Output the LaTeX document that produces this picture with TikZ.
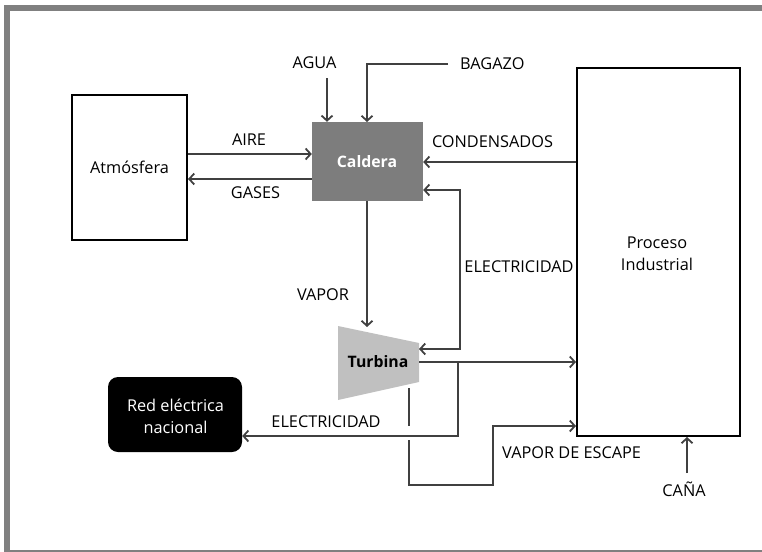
\documentclass[tikz,border=0pt]{standalone}
\usepackage{fontspec}
\setmainfont{Open Sans}
\usetikzlibrary{arrows.meta}
\definecolor{linegray}{HTML}{404040}
\definecolor{framegray}{HTML}{808080}
\definecolor{calgray}{HTML}{7D7D7D}
\definecolor{turbgray}{HTML}{C0C0C0}
\begin{document}
\begin{tikzpicture}[x=1pt,y=-1pt,
  tip/.tip={Straight Barb[length=5pt,width=11pt,line width=1.8pt]},
  flow/.style={draw=linegray, line width=1.8pt, -tip},
  plain/.style={draw=linegray, line width=1.8pt},
  lbl/.style={font=\fontsize{16.3}{19}\selectfont, inner sep=0pt, text=black},
  whitebox/.style={draw=black, line width=2pt, fill=white, inner sep=0pt},
]
\useasboundingbox (0,0) rectangle (762,551);
\draw[framegray, line width=6pt] (7,8) rectangle (770,553);

% blocks
\node[whitebox, minimum width=115pt, minimum height=145pt] (atm) at (129.5,167.5) {};
\node[lbl] (atmtxt) at (129.5,167) {Atmósfera};
\node[fill=calgray, minimum width=111pt, minimum height=79pt, inner sep=0pt] (cal) at (367.5,161.5) {};
\node[lbl, text=white, font=\fontsize{15.8}{18}\selectfont\bfseries] (caltxt) at (367,162) {Caldera};
\node[whitebox, minimum width=163pt, minimum height=368pt] (proc) at (658.5,252) {};
\node[lbl, align=center, font=\fontsize{16.3}{22}\selectfont] (proctxt) at (657,254) {Proceso\\Industrial};
\node[fill=black, rounded corners=10pt, minimum width=134pt, minimum height=75pt, inner sep=0pt] (red) at (175,414.5) {};
\node[lbl, text=white, align=center, font=\fontsize{16.3}{22}\selectfont] (redtxt) at (175.5,416) {Red eléctrica\\nacional};
\fill[turbgray] (338,326) -- (419,343) -- (419,382) -- (338,400) -- cycle;
\node[lbl, font=\fontsize{15.8}{18}\selectfont\bfseries] (turb) at (378,362) {Turbina};

% coordinates
\coordinate (aguaS) at (327,78);
\coordinate (bagS) at (448,64);
\coordinate (turbIn) at (367,327);
\coordinate (turbE1) at (419,349);
\coordinate (turbE2) at (419,362);
\coordinate (elecC) at (460,190);
\coordinate (elecD) at (460,349);
\coordinate (elec2A) at (458,362);
\coordinate (elec2B) at (458,436);
\coordinate (escA) at (409,388);
\coordinate (escB) at (409,426);
\coordinate (escC) at (409,440);
\coordinate (escD) at (409,485);
\coordinate (escE) at (493,485);
\coordinate (escF) at (493,426);
\coordinate (canaS) at (687,473);

% connectors
\draw[flow] (atm.east |- 0,154) -- (cal.west |- 0,154);
\draw[flow] (cal.west |- 0,179) -- (atm.east |- 0,179);
\draw[flow] (aguaS) -- (aguaS |- cal.north);
\draw[flow] (bagS) -- (367,64) -- (367,122);
\draw[flow] (proc.west |- 0,162) -- (cal.east |- 0,162);
\draw[plain, tip-tip] (cal.east |- elecC) -- (elecC) -- (elecD) -- (turbE1);
\draw[flow] (367,201) -- (turbIn);
\draw[flow] (turbE2) -- (proc.west |- turbE2);
\draw[flow] (elec2A) -- (elec2B) -- (red.east |- elec2B);
\draw[plain] (escA) -- (escB);
\draw[flow] (escC) -- (escD) -- (escE) -- (escF) -- (proc.west |- escF);
\draw[flow] (canaS) -- (canaS |- proc.south);

% labels
\node[lbl] (agua) at (314.5,63) {AGUA};
\node[lbl, anchor=west] (bagazo) at (460,64) {BAGAZO};
\node[lbl] (cond) at (492.5,142) {CONDENSADOS};
\node[lbl] (aire) at (249,140) {AIRE};
\node[lbl] (gases) at (255.5,193) {GASES};
\node[lbl] (elec1) at (519,267) {ELECTRICIDAD};
\node[lbl] (vapor) at (323,295) {VAPOR};
\node[lbl] (elec2) at (326,422) {ELECTRICIDAD};
\node[lbl, anchor=west] (vesc) at (502,453) {VAPOR DE ESCAPE};
\node[lbl] (cana) at (684,489) {CAÑA};
\end{tikzpicture}
\end{document}
